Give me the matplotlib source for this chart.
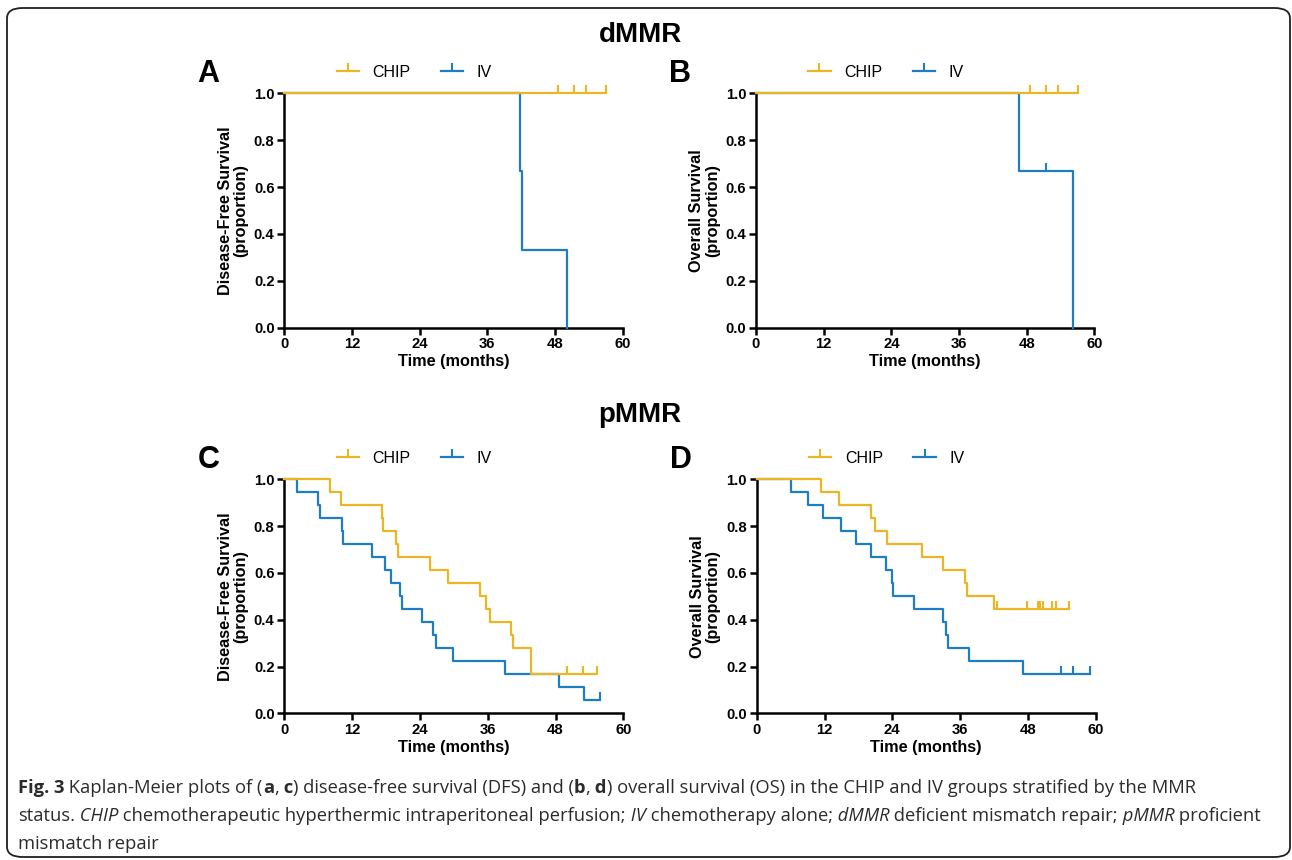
import numpy as np
import matplotlib
matplotlib.use("Agg")
import matplotlib.pyplot as plt
from matplotlib.path import Path
from matplotlib.lines import Line2D
from matplotlib.patches import FancyBboxPatch

# --- data (months) --------------------------------------------------------
# dMMR, disease-free survival
a_chip_events = []
a_chip_censored = [48.6, 51.4, 53.5, 57.1]
a_iv_events = [41.8, 42.1, 50.2]
a_iv_censored = []

# dMMR, overall survival
b_chip_events = []
b_chip_censored = [48.6, 51.5, 53.6, 57.1]
b_iv_events = [46.7, 56.3]
b_iv_censored = [51.5]

# pMMR, disease-free survival
c_chip_events = [8.1, 10.0, 17.3, 17.5, 19.8, 20.2, 25.7, 29.0, 34.7, 35.7,
                 36.4, 40.1, 40.5, 43.6, 43.6]
c_chip_censored = [50.1, 52.9, 55.4]
c_iv_events = [2.2, 5.9, 6.3, 10.2, 10.4, 15.6, 17.9, 18.9, 20.5, 20.8,
               24.4, 26.4, 26.9, 29.9, 39.1, 48.6, 53.1]
c_iv_censored = [55.9]

# pMMR, overall survival
d_chip_events = [11.4, 14.6, 20.3, 20.9, 23.1, 29.3, 32.9, 36.9, 37.3, 42.0]
d_chip_censored = [42.6, 47.9, 49.7, 50.1, 50.6, 52.3, 52.9, 55.3]
d_iv_events = [6.0, 9.0, 11.8, 15.0, 17.6, 20.2, 22.9, 23.9, 24.1, 27.8,
               33.0, 33.5, 33.9, 37.6, 47.2]
d_iv_censored = [53.9, 55.9, 59.0]

groups = ["CHIP", "IV"]
x_ticks = [0, 12, 24, 36, 48, 60]
y_ticks = [0.0, 0.2, 0.4, 0.6, 0.8, 1.0]

CHIP_COL = "#EBB623"
IV_COL = "#1F7EC2"
W, H = 1292, 860

TICK_UP = Path([(0, 0), (0, 1)])   # censor mark: short stroke pointing up


def km(events, censored):
    """Kaplan-Meier step coordinates plus the survival level at each censor."""
    ev = np.sort(np.asarray(events, float))
    ce = np.sort(np.asarray(censored, float))
    n = len(ev) + len(ce)
    xs, ys, s = [0.0], [1.0], 1.0
    for t in np.unique(ev):
        at_risk = n - np.sum(ev < t) - np.sum(ce < t)
        s *= 1 - np.sum(ev == t) / at_risk
        xs.append(t); ys.append(s)
    end = max(list(ev) + list(ce))
    if end > xs[-1]:
        xs.append(end); ys.append(s)
    xs, ys = np.array(xs), np.array(ys)
    cy = [ys[np.searchsorted(xs, c, side="right") - 1] for c in ce]
    return xs, ys, ce, np.array(cy)


def fig_rect(l, t, r, b):
    """pixel box (left, top, right, bottom) -> figure fraction rect"""
    return [l / W, 1 - b / H, (r - l) / W, (b - t) / H]


def draw_panel(ax, chip, iv, ylabel):
    for (events, cens), col, z in ((iv, IV_COL, 3), (chip, CHIP_COL, 4)):
        xs, ys, cx, cy = km(events, cens)
        ax.plot(xs, ys, drawstyle="steps-post", color=col, lw=1.6,
                clip_on=False, zorder=z)
        if len(cx):
            ax.plot(cx, cy, ls="none", marker=TICK_UP, ms=11, mew=1.5,
                    color=col, clip_on=False, zorder=z)
    ax.set_xlim(0, 60); ax.set_ylim(0, 1)
    ax.set_xticks(x_ticks); ax.set_yticks(y_ticks)
    ax.set_yticklabels([f"{v:.1f}" for v in y_ticks])
    for s in ("top", "right"):
        ax.spines[s].set_visible(False)
    for s in ("left", "bottom"):
        ax.spines[s].set_linewidth(1.8)
    ax.tick_params(direction="out", length=5, width=1.8, pad=2,
                   labelsize=10.7)
    for lab in ax.get_xticklabels() + ax.get_yticklabels():
        lab.set_fontweight("bold")
    ax.set_xlabel("Time (months)", fontsize=11.7, fontweight="bold", labelpad=2)
    ax.set_ylabel(ylabel, fontsize=11.7, fontweight="bold", labelpad=4,
                  linespacing=1.05)

    handles = [Line2D([], [], color=c, lw=1.6, marker=TICK_UP, ms=11, mew=1.5)
               for c in (CHIP_COL, IV_COL)]
    return handles


plt.rcParams["font.family"] = ["Liberation Sans", "DejaVu Sans"]
fig = plt.figure(figsize=(W / 100, H / 100), dpi=100)

panels = [
    ("A", (284.3, 93.3, 622.7, 327.7), (a_chip_events, a_chip_censored),
     (a_iv_events, a_iv_censored), "Disease-Free Survival\n(proportion)"),
    ("B", (756.0, 93.3, 1094.3, 327.7), (b_chip_events, b_chip_censored),
     (b_iv_events, b_iv_censored), "Overall Survival\n(proportion)"),
    ("C", (284.3, 479.3, 623.3, 713.3), (c_chip_events, c_chip_censored),
     (c_iv_events, c_iv_censored), "Disease-Free Survival\n(proportion)"),
    ("D", (756.7, 479.3, 1095.7, 713.3), (d_chip_events, d_chip_censored),
     (d_iv_events, d_iv_censored), "Overall Survival\n(proportion)"),
]

for letter, box, chip, iv, ylab in panels:
    ax = fig.add_axes(fig_rect(*box))
    handles = draw_panel(ax, chip, iv, ylab)
    l, t = box[0], box[1]
    fig.text((l - 76) / W, 1 - (t - 19) / H, letter, fontsize=22,
             fontweight="bold", ha="center", va="center")
    fig.legend(handles, groups, loc="center", ncol=2, frameon=False,
               bbox_to_anchor=((l + 130) / W, 1 - (t - 21) / H),
               fontsize=11.5, handlelength=1.4, handletextpad=0.85,
               columnspacing=1.9, numpoints=1, borderpad=0)

fig.text(640 / W, 1 - 35 / H, "dMMR", fontsize=20, fontweight="bold",
         ha="center", va="center")
fig.text(640 / W, 1 - 415 / H, "pMMR", fontsize=20, fontweight="bold",
         ha="center", va="center")

# caption, drawn run by run so bold/italic words sit inline
caption = [
    [("Fig. 3", "bold", "normal"), (" Kaplan-Meier plots of (", "normal", "normal"),
     ("a", "bold", "normal"), (",", "normal", "normal"), (" c", "bold", "normal"),
     (") disease-free survival (DFS) and (", "normal", "normal"),
     ("b", "bold", "normal"), (",", "normal", "normal"), (" d", "bold", "normal"),
     (") overall survival (OS) in the CHIP and IV groups stratified by the MMR",
      "normal", "normal")],
    [("status.", "normal", "normal"), (" CHIP", "normal", "italic"),
     (" chemotherapeutic hyperthermic intraperitoneal perfusion;", "normal", "normal"),
     (" IV", "normal", "italic"), (" chemotherapy alone;", "normal", "normal"),
     (" dMMR", "normal", "italic"), (" deficient mismatch repair;", "normal", "normal"),
     (" pMMR", "normal", "italic"), (" proficient", "normal", "normal")],
    [("mismatch repair", "normal", "normal")],
]
baselines = [793, 821, 849]
renderer = fig.canvas.get_renderer()
for runs, yb in zip(caption, baselines):
    x = 18
    for txt, weight, style in runs:
        t = fig.text(x / W, 1 - yb / H, txt, fontsize=13.2, family="Open Sans",
                     fontweight=weight, fontstyle=style, color="#2b2b2b",
                     ha="left", va="baseline")
        x += t.get_window_extent(renderer).width

fig.patches.append(FancyBboxPatch((7 / W, 3 / H), 1283 / W, 849 / H,
                                  boxstyle="round,pad=0,rounding_size=0.012",
                                  transform=fig.transFigure, fill=False,
                                  lw=1.3, ec="#231f20"))

fig.savefig("out.png", dpi=100)
